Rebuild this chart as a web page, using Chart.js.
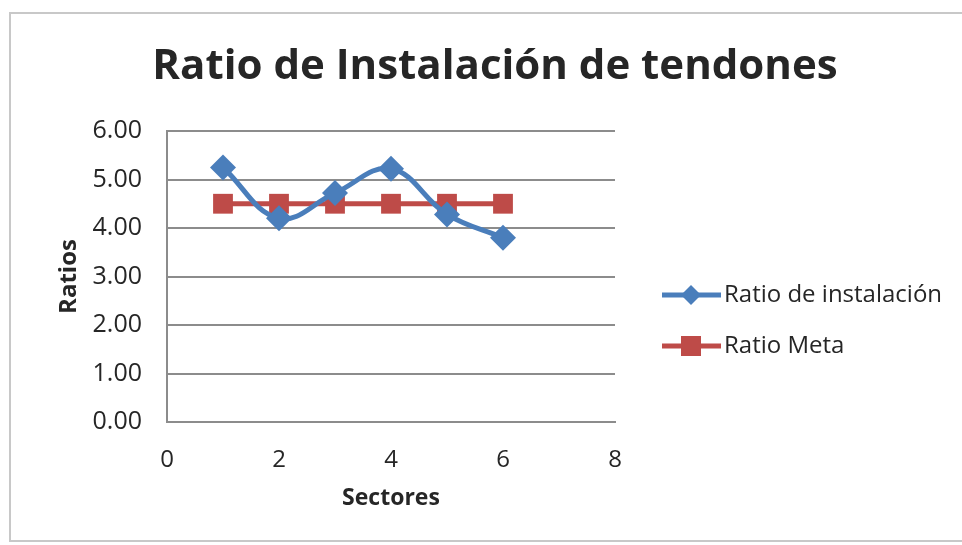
<!DOCTYPE html>
<html>
<head>
<meta charset="utf-8">
<script src="https://cdn.jsdelivr.net/npm/chart.js@4.4.1/dist/chart.umd.min.js"></script>
<style>
  html, body { margin: 0; padding: 0; background: #fff; }
  #wrap { width: 962px; height: 545px; position: relative; }
</style>
</head>
<body>
<div id="wrap"><canvas id="chartRatios"></canvas></div>
<script>
// Sectores y ratios
const sectores = [1, 2, 3, 4, 5, 6];
const ratioInstalacion = [5.25, 4.2, 4.72, 5.22, 4.28, 3.8];
const ratioMeta = [4.5, 4.5, 4.5, 4.5, 4.5, 4.5];
const xTicks = [0, 2, 4, 6, 8];
const yTicks = [0, 1, 2, 3, 4, 5, 6];

const BLUE = '#4a7ebb';
const RED = '#be4b48';
const TEXT = '#262626';
const FONT = '"Open Sans", Lato, sans-serif';

const toPoints = (xs, ys) => xs.map((x, i) => ({ x: x, y: ys[i] }));

// title + legend with line-and-marker swatches, drawn by hand
const decorations = {
  id: 'decorations',
  afterDraw(chart) {
    const ctx = chart.ctx;
    ctx.save();
    // outer frame
    ctx.strokeStyle = '#c8c8c8';
    ctx.lineWidth = 2;
    ctx.strokeRect(10, 13, 960, 528);

    ctx.fillStyle = TEXT;
    ctx.font = 'bold 42px ' + FONT;
    ctx.textAlign = 'center';
    ctx.textBaseline = 'middle';
    ctx.fillText('Ratio de Instalación de tendones', 495, 67);

    ctx.font = '24px ' + FONT;
    ctx.textAlign = 'left';
    chart.data.datasets.forEach((ds, i) => {
      const y = 295 + i * 51;
      ctx.strokeStyle = ds.borderColor;
      ctx.lineWidth = 5;
      ctx.beginPath();
      ctx.moveTo(662, y);
      ctx.lineTo(721, y);
      ctx.stroke();
      ctx.fillStyle = ds.backgroundColor;
      ctx.beginPath();
      if (ds.pointStyle === 'rectRot') {
        ctx.moveTo(691, y - 10); ctx.lineTo(701, y); ctx.lineTo(691, y + 10); ctx.lineTo(681, y);
      } else {
        ctx.rect(681, y - 10, 20, 20);
      }
      ctx.fill();
      ctx.fillStyle = TEXT;
      ctx.fillText(ds.label, 724, y);
    });
    ctx.restore();
  }
};

new Chart(document.getElementById('chartRatios').getContext('2d'), {
  type: 'scatter',
  data: {
    datasets: [
      {
        label: 'Ratio de instalación',
        data: toPoints(sectores, ratioInstalacion),
        showLine: true,
        tension: 0.4,
        borderColor: BLUE,
        backgroundColor: BLUE,
        borderWidth: 5,
        pointStyle: 'rectRot',
        pointRadius: 13,
        pointBorderWidth: 0
      },
      {
        label: 'Ratio Meta',
        data: toPoints(sectores, ratioMeta),
        showLine: true,
        borderColor: RED,
        backgroundColor: RED,
        borderWidth: 5,
        pointStyle: 'rect',
        pointRadius: 14,
        pointBorderWidth: 0
      }
    ]
  },
  options: {
    responsive: true,
    maintainAspectRatio: false,
    animation: false,
    layout: { padding: { top: 131, right: 347, bottom: 0, left: 0 } },
    plugins: {
      legend: { display: false },
      tooltip: { enabled: false }
    },
    scales: {
      x: {
        type: 'linear',
        min: 0,
        max: 8,
        afterBuildTicks: (s) => { s.ticks = xTicks.map(v => ({ value: v })); },
        afterFit: (s) => { s.height = 123; },
        ticks: { color: TEXT, font: { family: FONT, size: 24 }, padding: 24 },
        grid: { display: false, drawTicks: false },
        border: { color: '#8c8c8c', width: 2 },
        title: {
          display: true,
          text: 'Sectores',
          color: TEXT,
          font: { family: FONT, size: 23, weight: 'bold' },
          padding: { top: 0, bottom: 33 }
        }
      },
      y: {
        min: 0,
        max: 6,
        afterBuildTicks: (s) => { s.ticks = yTicks.map(v => ({ value: v })); },
        afterFit: (s) => { s.width = 167; },
        ticks: {
          color: TEXT,
          font: { family: FONT, size: 25 },
          padding: 25,
          callback: (v) => v.toFixed(2)
        },
        grid: { color: '#8c8c8c', lineWidth: 2, drawTicks: false },
        border: { color: '#8c8c8c', width: 2 },
        title: {
          display: true,
          text: 'Ratios',
          color: TEXT,
          font: { family: FONT, size: 24, weight: 'bold' },
          padding: { top: 55, bottom: 0 }
        }
      }
    }
  },
  plugins: [decorations]
});
</script>
</body>
</html>
